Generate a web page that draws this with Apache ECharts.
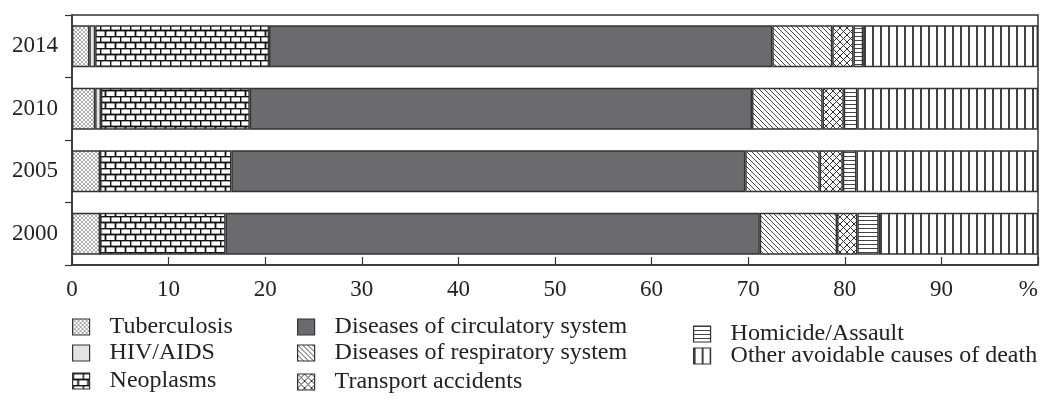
<!DOCTYPE html>
<html>
<head>
<meta charset="utf-8">
<script src="https://cdn.jsdelivr.net/npm/echarts@6/dist/echarts.min.js"></script>
<style>
html,body{margin:0;padding:0;background:#fff;overflow:hidden;}
#chart{width:1043px;height:408px;}
</style>
</head>
<body>
<div id="chart"></div>
<script>
// ---- data ----
var years = ['2000', '2005', '2010', '2014'];
var tuberculosis = [2.9, 2.9, 2.4, 1.8];
var hivAids = [0, 0, 0.6, 0.6];
var neoplasms = [13.0, 13.6, 15.4, 18.0];
var circulatory = [55.3, 53.2, 52.0, 52.1];
var respiratory = [8.0, 7.7, 7.3, 6.2];
var transport = [2.1, 2.4, 2.2, 2.2];
var homicide = [2.2, 1.4, 1.4, 1.0];
var otherCauses = [16.5, 18.8, 18.7, 18.1];
var xTicks = [0, 10, 20, 30, 40, 50, 60, 70, 80, 90, 100];
var xMaxLabel = '%';

// ---- patterns ----
function mk(w, h, draw) {
  var c = document.createElement('canvas');
  c.width = w; c.height = h;
  var g = c.getContext('2d');
  g.fillStyle = '#fff'; g.fillRect(0, 0, w, h);
  draw(g, w, h);
  return { image: c, repeat: 'repeat' };
}
function line(g, x1, y1, x2, y2) { g.beginPath(); g.moveTo(x1, y1); g.lineTo(x2, y2); g.stroke(); }

var pTB = mk(4, 4, function (g, w, h) {
  g.strokeStyle = '#888'; g.lineWidth = 0.7;
  line(g, 0, 0, w, h); line(g, 0, h, w, 0);
});
var pBrick = mk(10, 12, function (g, w, h) {
  g.strokeStyle = '#111'; g.lineWidth = 1.8;
  line(g, 0, 0.5, w, 0.5); line(g, 0, 6.5, w, 6.5);
  line(g, 0.5, 0, 0.5, 6.5); line(g, 5.5, 6.5, 5.5, 12);
});
var pResp = mk(5, 5, function (g, w, h) {
  g.strokeStyle = '#333'; g.lineWidth = 0.9;
  line(g, -1, -1, w + 1, h + 1);
  line(g, -1, h - 1, 1, h + 1);
  line(g, w - 1, -1, w + 1, 1);
});
var pTrans = mk(7, 7, function (g, w, h) {
  g.strokeStyle = '#333'; g.lineWidth = 1;
  line(g, 0, 0, w, h); line(g, 0, h, w, 0);
});
var pHom = mk(4, 4, function (g, w, h) {
  g.strokeStyle = '#444'; g.lineWidth = 1;
  line(g, 0, 0.5, w, 0.5);
});
var pOther = mk(8, 8, function (g, w, h) {
  g.strokeStyle = '#222'; g.lineWidth = 1.7;
  line(g, 1, 0, 1, h);
});

var names = ['Tuberculosis', 'HIV/AIDS', 'Neoplasms', 'Diseases of circulatory system',
  'Diseases of respiratory system', 'Transport accidents', 'Homicide/Assault',
  'Other avoidable causes of death'];
var values = [tuberculosis, hivAids, neoplasms, circulatory, respiratory, transport, homicide, otherCauses];
var fills = [pTB, '#e3e3e3', pBrick, '#6b6b6f', pResp, pTrans, pHom, pOther];

var FONT = 'Liberation Serif';
var series = names.map(function (n, i) {
  return {
    name: n, type: 'bar', stack: 'total', barWidth: 42,
    data: values[i],
    itemStyle: { color: fills[i], borderColor: '#333', borderWidth: 1.4 },
    emphasis: { disabled: true },
    animation: false
  };
});

// legend placement: [icon left, row centre y]
var legendPos = [[72, 327], [72, 353], [72, 381], [297, 327], [297, 353], [297, 382], [693, 334], [693, 356]];
var legends = names.map(function (n, i) {
  return {
    left: legendPos[i][0], top: legendPos[i][1] - 12, padding: 0,
    itemWidth: 17, itemHeight: 16, icon: 'rect', data: [n], selectedMode: false,
    textStyle: { fontFamily: FONT, fontSize: 24, color: '#222', padding: [0, 0, 0, 15], lineHeight: 24 },
    itemStyle: { borderColor: '#333', borderWidth: 1.2 }
  };
});

var chart = echarts.init(document.getElementById('chart'), null, { renderer: 'canvas' });
chart.setOption({
  animation: false,
  backgroundColor: '#fff',
  grid: { left: 72, top: 15, width: 966, height: 250, show: true, borderColor: '#333', borderWidth: 1.5, containLabel: false },
  xAxis: {
    type: 'value', min: xTicks[0], max: xTicks[xTicks.length - 1], interval: 10,
    axisLine: { show: true, lineStyle: { color: '#333', width: 1.5 } },
    axisTick: { show: true, inside: true, length: 8, lineStyle: { color: '#333', width: 1.2 } },
    splitLine: { show: false },
    axisLabel: {
      margin: 13, fontFamily: FONT, fontSize: 23, color: '#222', showMinLabel: true, showMaxLabel: true,
      alignMaxLabel: 'right',
      formatter: function (v) { return v === 100 ? xMaxLabel : String(v); }
    }
  },
  yAxis: {
    type: 'category', data: years,
    axisLine: { show: true, lineStyle: { color: '#333', width: 1.5 } },
    axisTick: { show: true, length: 7, lineStyle: { color: '#333', width: 1.2 } },
    axisLabel: { margin: 14, fontFamily: FONT, fontSize: 23, color: '#222' }
  },
  legend: legends,
  series: series
});
</script>
</body>
</html>
